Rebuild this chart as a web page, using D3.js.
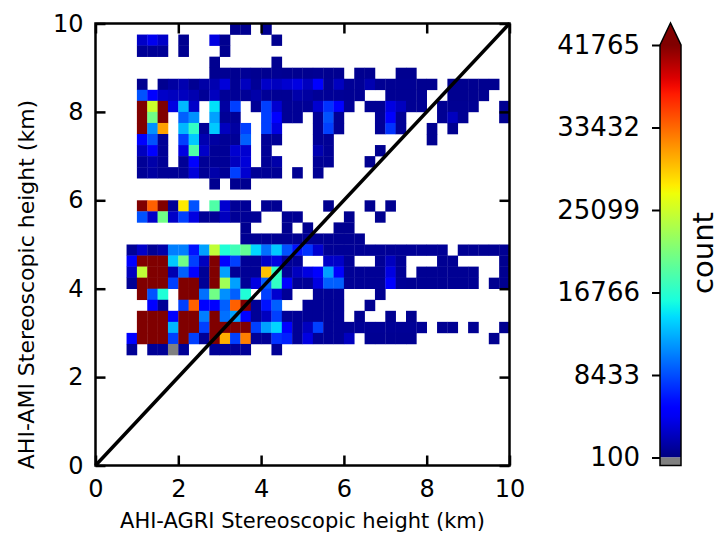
<!DOCTYPE html>
<html><head><meta charset="utf-8">
<script src="https://cdn.jsdelivr.net/npm/d3@7/dist/d3.min.js"></script>
<style>body{margin:0;background:#fff}svg{display:block;font-family:"DejaVu Sans",sans-serif}</style>
</head><body>
<svg id="c" width="719" height="534"></svg>
<script>
// ---- data ----
const binSize = 0.25;
const xTicks = [0, 2, 4, 6, 8, 10];
const yTicks = [0, 2, 4, 6, 8, 10];
const cbTicks = [100, 8433, 16766, 25099, 33432, 41765];
const vmin = 100, vmax = 41765;
const xLabel = "AHI-AGRI Stereoscopic height (km)";
const yLabel = "AHI-AMI Stereoscopic height (km)";
const cbLabel = "count";
// lower edge (km) of each row of bins, top to bottom
const rowY = [9.75,9.5,9.25,9.0,8.75,8.5,8.25,8.0,7.75,7.5,7.25,7.0,6.75,6.5,6.25,6.0,5.75,5.5,5.25,5.0,4.75,4.5,4.25,4.0,3.75,3.5,3.25,3.0,2.75,2.5];
// counts per row; column i covers x = [i*0.25, (i+1)*0.25); 0 = empty
const counts = [
[0,0,0,0,0,0,0,0,0,0, 0,0,0,700,700,0,700,0,0,0, 0,0,0,0,0,0,0,0,0,0, 0,0,0,0,0,0,0,0,0,0],
[0,0,0,0,2700,4100,2700,0,700,0, 0,3600,700,0,0,0,0,700,0,0, 0,0,0,0,0,0,0,0,0,0, 0,0,0,0,0,0,0,0,0,0],
[0,0,0,0,900,900,900,0,700,0, 0,0,700,0,0,0,0,0,0,0, 0,0,0,0,0,0,0,0,0,0, 0,0,0,0,0,0,0,0,0,0],
[0,0,0,0,0,0,0,0,0,0, 0,700,0,0,0,0,0,700,0,0, 0,0,0,0,0,0,0,0,0,0, 0,0,0,0,0,0,0,0,0,0],
[0,0,0,0,0,0,0,0,0,0, 0,700,800,700,900,700,700,800,700,700, 700,800,700,700,0,700,700,0,0,700, 700,0,0,0,0,0,0,0,0,0],
[0,0,0,0,700,0,700,1300,1850,800, 1500,1850,3300,800,2400,900,2700,2400,3000,3600, 2400,5000,900,2400,900,900,1850,800,800,800, 800,700,700,0,700,700,700,700,700,0],
[0,0,0,0,8600,5000,2700,2400,2400,1850, 900,2400,900,900,900,1600,900,800,800,1600, 1300,900,900,900,800,800,0,0,800,800, 800,800,0,0,700,700,700,700,0,0],
[0,0,0,0,45000,25000,45000,3600,12800,2700, 0,14500,1300,7900,0,900,7900,3000,900,900, 900,3000,7300,5000,900,0,800,800,3600,2400, 800,800,0,800,800,800,800,0,0,700],
[0,0,0,0,45000,20400,45000,0,9200,11200, 0,11900,900,900,0,0,7900,5000,900,900, 0,900,8600,900,0,0,0,900,5000,900, 0,0,0,800,2400,800,0,0,0,700],
[0,0,0,0,45000,11200,30900,0,12800,17200, 900,13500,2400,1300,7900,0,7900,3600,0,0, 0,900,7900,900,0,0,0,900,7300,900, 0,0,700,0,700,0,0,0,0,0],
[0,0,0,0,5000,8600,900,0,7900,13500, 1850,1300,900,900,9200,0,900,900,0,0, 0,900,900,0,0,0,0,0,0,0, 0,0,700,0,0,0,0,0,0,0],
[0,0,0,0,2400,5000,900,0,3600,18700, 2700,900,900,3000,3000,0,900,0,0,0, 0,1850,900,0,0,0,0,700,0,0, 0,0,0,0,0,0,0,0,0,0],
[0,0,0,0,900,1600,900,0,900,5000, 900,900,900,2400,3300,0,900,1600,0,0, 0,900,900,0,0,0,700,0,0,0, 0,0,0,0,0,0,0,0,0,0],
[0,0,0,0,900,1300,900,900,900,3300, 900,1600,900,7900,3000,900,900,900,0,800, 0,800,0,0,0,0,0,0,0,0, 0,0,0,0,0,0,0,0,0,0],
[0,0,0,0,0,0,0,0,0,0, 0,700,0,700,700,0,0,0,0,0, 0,0,0,0,0,0,0,0,0,0, 0,0,0,0,0,0,0,0,0,0],
[0,0,0,0,0,0,0,0,0,0, 0,0,0,0,0,0,0,0,0,0, 0,0,0,0,0,0,0,0,0,0, 0,0,0,0,0,0,0,0,0,0],
[0,0,0,0,45000,33800,45000,900,27700,8600, 0,18700,3000,900,900,0,800,800,0,0, 0,0,700,0,0,0,700,0,700,0, 0,0,0,0,0,0,0,0,0,0],
[0,0,0,0,8600,2700,20400,2700,7900,3600, 900,900,2400,900,900,900,0,0,800,800, 0,0,0,0,700,0,0,700,0,0, 0,0,0,0,0,0,0,0,0,0],
[0,0,0,0,0,0,0,0,0,0, 0,0,0,0,700,0,0,0,700,0, 700,0,0,700,700,0,0,0,0,0, 0,0,0,0,0,0,0,0,0,0],
[0,0,0,0,0,0,0,0,0,0, 0,0,0,0,800,800,800,800,800,800, 800,800,800,800,800,800,0,0,0,0, 0,0,0,0,0,0,0,0,0,0],
[0,0,0,900,2700,900,1600,10500,10500,6000, 11900,24400,16300,17900,19700,14100,9900,13500,8600,6000, 7300,3000,900,900,900,900,900,900,900,900, 900,900,900,900,0,800,800,800,800,800],
[0,0,0,5000,45000,45000,45000,13500,20400,7900, 2400,45000,5000,7900,900,900,2700,3600,900,900, 0,0,2700,2700,900,0,0,900,2400,900, 0,0,0,800,800,0,0,0,0,700],
[0,0,0,2400,24400,45000,45000,1850,9200,5000, 900,45000,11900,900,900,900,29500,17200,900,2400, 3600,5000,11900,5000,900,900,900,900,3600,900, 0,800,800,800,800,800,800,0,0,700],
[0,0,0,900,45000,45000,45000,7900,45000,45000, 900,45000,22800,11900,900,3600,9200,17200,5000,900, 900,3600,9200,9200,900,900,900,900,5000,900, 800,800,800,800,800,800,800,0,700,700],
[0,0,0,0,45000,8600,16300,0,45000,45000, 9900,20400,11200,9200,16300,0,7900,3000,900,0, 0,900,900,900,0,0,0,700,0,0, 0,0,0,0,0,0,0,0,0,0],
[0,0,0,0,0,5000,900,0,7900,33800, 5000,5000,9200,33800,45000,900,6000,9200,0,0, 900,900,900,900,0,0,700,0,0,0, 0,0,0,0,0,0,0,0,0,0],
[0,0,0,0,45000,45000,45000,5000,45000,45000, 10500,45000,9900,11900,5000,900,2400,7900,900,900, 900,900,900,900,0,700,0,0,700,0, 700,0,0,0,0,0,0,0,0,0],
[0,0,0,0,45000,45000,45000,12800,45000,45000, 7900,45000,45000,45000,45000,7900,11900,14100,5000,900, 2400,7900,900,900,900,900,900,900,900,900, 900,900,0,800,800,0,800,0,0,700],
[0,0,0,5000,45000,45000,45000,7900,45000,7900, 900,45000,30300,7900,32400,900,900,7300,6600,900, 3600,900,900,900,2400,0,800,800,800,800, 800,0,0,0,0,0,0,0,700,0],
[0,0,0,900,0,900,900,60,900,0, 0,900,900,900,900,0,0,900,0,0, 0,0,0,0,0,0,0,0,0,0, 0,0,0,0,0,0,0,0,0,0]
];

// ---- jet colormap ----
function seg(pts, t){
  for (let i = 1; i < pts.length; i++) {
    if (t <= pts[i][0]) { const [x0,y0] = pts[i-1], [x1,y1] = pts[i]; return y0 + (y1-y0)*(t-x0)/(x1-x0); }
  }
  return pts[pts.length-1][1];
}
function jet(t){
  t = Math.max(0, Math.min(1, t));
  const r = seg([[0,0],[0.35,0],[0.66,1],[0.89,1],[1,0.5]], t);
  const g = seg([[0,0],[0.125,0],[0.375,1],[0.64,1],[0.91,0],[1,0]], t);
  const b = seg([[0,0.5],[0.11,1],[0.34,1],[0.65,0],[1,0]], t);
  return d3.rgb(r*255, g*255, b*255).toString();
}
const norm = d3.scaleLinear().domain([vmin, vmax]).range([0, 1]);
const colorOf = v => v < vmin ? "#808080" : jet(norm(v));

// ---- layout ----
const svg = d3.select("#c");
const P = {l: 95.5, r: 509.5, t: 23.5, b: 465.5};
const x = d3.scaleLinear().domain([0, 10]).range([P.l, P.r]);
const y = d3.scaleLinear().domain([0, 10]).range([P.b, P.t]);

// cells
const cells = [];
counts.forEach((row, j) => row.forEach((v, i) => { if (v > 0) cells.push({x0: i*binSize, y0: rowY[j], v}); }));
svg.append("g").selectAll("rect").data(cells).join("rect")
  .attr("x", d => x(d.x0))
  .attr("y", d => y(d.y0 + binSize))
  .attr("width", d => x(d.x0 + binSize) - x(d.x0) + 0.3)
  .attr("height", d => y(d.y0) - y(d.y0 + binSize) + 0.3)
  .attr("fill", d => colorOf(d.v));

// diagonal 1:1
svg.append("line")
  .attr("x1", x(0)).attr("y1", y(0)).attr("x2", x(10)).attr("y2", y(10))
  .attr("stroke", "#000").attr("stroke-width", 3.5);

// axes with inward ticks on all sides
const fs = 24;
function styleAxis(g){
  g.select(".domain").remove();
  g.selectAll(".tick line").attr("stroke", "#000").attr("stroke-width", 2.5);
  g.selectAll(".tick text").attr("font-size", fs).attr("fill", "#000").attr("font-family", "DejaVu Sans");
}
svg.append("g").attr("transform", `translate(0,${P.b})`)
  .call(d3.axisBottom(x).tickValues(xTicks).tickSize(-10).tickPadding(14).tickFormat(d3.format("d")))
  .call(styleAxis);
svg.append("g").attr("transform", `translate(0,${P.t})`)
  .call(d3.axisTop(x).tickValues(xTicks).tickSize(-10).tickFormat(""))
  .call(styleAxis);
svg.append("g").attr("transform", `translate(${P.l},0)`)
  .call(d3.axisLeft(y).tickValues(yTicks).tickSize(-10).tickPadding(12).tickFormat(d3.format("d")))
  .call(styleAxis);
svg.append("g").attr("transform", `translate(${P.r},0)`)
  .call(d3.axisRight(y).tickValues(yTicks).tickSize(-10).tickFormat(""))
  .call(styleAxis);

// frame
svg.append("rect").attr("x", P.l).attr("y", P.t).attr("width", P.r-P.l).attr("height", P.b-P.t)
  .attr("fill", "none").attr("stroke", "#000").attr("stroke-width", 2.5);

// axis labels
svg.append("text").attr("x", (P.l+P.r)/2).attr("y", 528).attr("text-anchor", "middle")
  .attr("font-size", 21).text(xLabel);
svg.append("text").attr("transform", `translate(34,${(P.t+P.b)/2 + 40}) rotate(-90)`).attr("text-anchor", "middle")
  .attr("font-size", 22).text(yLabel);

// ---- colorbar ----
const CB = {x: 660, w: 21, top: 45, bot: 457.5, under: 8};
const cy = d3.scaleLinear().domain([vmin, vmax]).range([CB.bot, CB.top]);
const defs = svg.append("defs");
const grad = defs.append("linearGradient").attr("id", "jetg").attr("x1", 0).attr("y1", 1).attr("x2", 0).attr("y2", 0);
d3.range(0, 1.0001, 0.02).forEach(t => grad.append("stop").attr("offset", t).attr("stop-color", jet(t)));
svg.append("rect").attr("x", CB.x).attr("y", CB.top).attr("width", CB.w).attr("height", CB.bot-CB.top).attr("fill", "url(#jetg)");
svg.append("rect").attr("x", CB.x).attr("y", CB.bot).attr("width", CB.w).attr("height", CB.under).attr("fill", "#808080");
svg.append("path").attr("d", `M${CB.x},${CB.top} L${CB.x+CB.w/2},${CB.top-22} L${CB.x+CB.w},${CB.top} Z`).attr("fill", jet(1));
svg.append("path").attr("d", `M${CB.x},${CB.top} L${CB.x+CB.w/2},${CB.top-22} L${CB.x+CB.w},${CB.top} L${CB.x+CB.w},${CB.bot+CB.under} L${CB.x},${CB.bot+CB.under} Z`)
  .attr("fill", "none").attr("stroke", "#000").attr("stroke-width", 1.5);
const cbAxis = svg.append("g").attr("transform", `translate(${CB.x},0)`)
  .call(d3.axisLeft(cy).tickValues(cbTicks).tickSize(8).tickPadding(12).tickFormat(d3.format("d")));
cbAxis.select(".domain").remove();
cbAxis.selectAll(".tick line").attr("stroke", "#000").attr("stroke-width", 2);
cbAxis.selectAll(".tick text").attr("font-size", 26).attr("fill", "#000").attr("font-family", "DejaVu Sans");
svg.append("text").attr("transform", `translate(713,253) rotate(-90)`).attr("text-anchor", "middle")
  .attr("font-size", 29).text(cbLabel);
</script>
</body></html>
